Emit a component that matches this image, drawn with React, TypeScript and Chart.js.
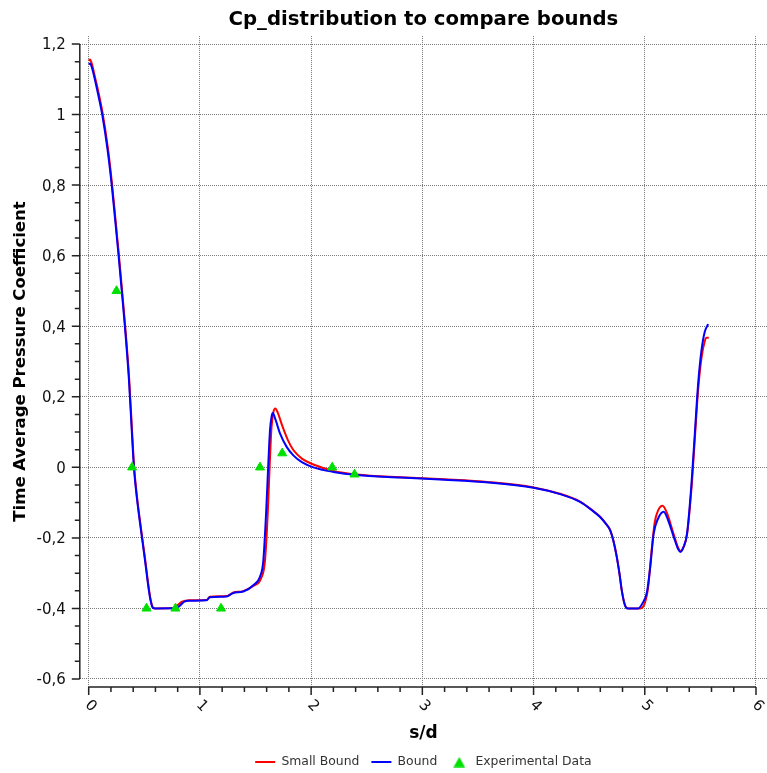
import React, { useEffect, useRef } from 'react';
import { Chart, registerables } from 'chart.js';

Chart.register(...registerables);

// ---- data ----
const smallBoundS = [
  0.0, 0.012, 0.03, 0.055, 0.088, 0.124, 0.172, 0.209, 0.24, 0.271, 0.301, 0.328, 0.364, 0.389, 0.409,
  0.435, 0.471, 0.508, 0.539, 0.558, 0.579, 0.6, 0.76, 0.8, 0.84, 0.9, 1.06, 1.09, 1.24, 1.3, 1.39, 1.48,
  1.55, 1.585, 1.61, 1.628, 1.643, 1.66, 1.678, 1.7, 1.74, 1.79, 1.84, 1.92, 2.02, 2.2, 2.41, 2.8, 3.2,
  3.6, 4.0, 4.238, 4.418, 4.526, 4.598, 4.652, 4.688, 4.719, 4.748, 4.773, 4.793, 4.814, 4.834, 4.852,
  4.96, 5.0, 5.03, 5.06, 5.09, 5.12, 5.16, 5.2, 5.26, 5.3, 5.32, 5.35, 5.38, 5.42, 5.45, 5.48, 5.51, 5.54,
  5.555, 5.575,
];
const smallBoundCp = [
  1.153, 1.156, 1.142, 1.108, 1.063, 1.006, 0.906, 0.806, 0.706, 0.604, 0.498, 0.401, 0.251, 0.108, 0.0,
  -0.085, -0.175, -0.262, -0.339, -0.377, -0.398, -0.4, -0.399, -0.39, -0.381, -0.377, -0.376, -0.367,
  -0.365, -0.355, -0.351, -0.336, -0.315, -0.265, -0.13, 0.01, 0.11, 0.155, 0.167, 0.155, 0.118, 0.078,
  0.049, 0.024, 0.008, -0.01, -0.02, -0.028, -0.034, -0.042, -0.057, -0.075, -0.097, -0.121, -0.14,
  -0.16, -0.177, -0.209, -0.253, -0.302, -0.348, -0.382, -0.398, -0.4, -0.4, -0.385, -0.34, -0.24,
  -0.155, -0.122, -0.109, -0.13, -0.19, -0.228, -0.237, -0.225, -0.19, -0.06, 0.08, 0.22, 0.31, 0.358,
  0.367, 0.367,
];

const boundS = [
  0.0, 0.012, 0.03, 0.055, 0.086, 0.122, 0.17, 0.207, 0.238, 0.269, 0.299, 0.326, 0.362, 0.387, 0.407,
  0.433, 0.469, 0.506, 0.537, 0.556, 0.576, 0.6, 0.79, 0.82, 0.86, 0.9, 1.06, 1.09, 1.24, 1.3, 1.39, 1.48,
  1.54, 1.57, 1.595, 1.615, 1.63, 1.645, 1.655, 1.68, 1.72, 1.78, 1.84, 1.92, 2.02, 2.2, 2.41, 2.8, 3.2,
  3.6, 4.0, 4.238, 4.418, 4.526, 4.598, 4.652, 4.688, 4.719, 4.748, 4.773, 4.793, 4.814, 4.832, 4.85,
  4.94, 4.98, 5.02, 5.05, 5.08, 5.12, 5.17, 5.21, 5.26, 5.3, 5.32, 5.35, 5.38, 5.42, 5.45, 5.48, 5.51,
  5.54, 5.57,
];
const boundCp = [
  1.143, 1.145, 1.132, 1.1, 1.055, 0.999, 0.899, 0.8, 0.701, 0.599, 0.494, 0.397, 0.247, 0.105, -0.002,
  -0.086, -0.176, -0.263, -0.34, -0.377, -0.398, -0.4, -0.399, -0.392, -0.381, -0.378, -0.377, -0.368,
  -0.366, -0.356, -0.352, -0.334, -0.31, -0.265, -0.13, 0.01, 0.105, 0.145, 0.154, 0.135, 0.096, 0.058,
  0.034, 0.014, 0.0, -0.013, -0.022, -0.029, -0.035, -0.043, -0.058, -0.076, -0.098, -0.122, -0.141,
  -0.161, -0.178, -0.21, -0.254, -0.303, -0.349, -0.383, -0.398, -0.4, -0.4, -0.385, -0.353, -0.28,
  -0.188, -0.145, -0.126, -0.15, -0.197, -0.232, -0.24, -0.225, -0.188, -0.046, 0.096, 0.238, 0.332,
  0.385, 0.406,
];

const expS = [0.25, 0.39, 0.52, 0.78, 1.19, 1.54, 1.74, 2.19, 2.39];
const expCp = [0.5, 0.0, -0.4, -0.4, -0.4, 0.0, 0.04, 0.0, -0.02];

const xTicks = [0, 1, 2, 3, 4, 5, 6];
const yTicks = [-0.6, -0.4, -0.2, 0, 0.2, 0.4, 0.6, 0.8, 1, 1.2];
const xMinorStep = 0.2;
const yMinorStep = 0.05;

const FONT = '"DejaVu Sans", Verdana, sans-serif';
const GREEN = '#00e000';

const fmt = (v: number) => {
  const n = Number(v.toFixed(2));
  return (Object.is(n, -0) ? 0 : n).toString().replace('.', ',');
};

const makeTriangleIcon = () => {
  const c = document.createElement('canvas');
  c.width = 12;
  c.height = 11;
  const g = c.getContext('2d');
  if (g) {
    g.fillStyle = GREEN;
    g.beginPath();
    g.moveTo(6, 0.5);
    g.lineTo(11.8, 10.8);
    g.lineTo(0.2, 10.8);
    g.closePath();
    g.fill();
  }
  return c;
};

const axesPlugin = {
  id: 'customAxes',
  afterDraw(chart: any) {
    const { ctx, chartArea, scales } = chart;
    const x = scales.x;
    const y = scales.y;
    const ax = chartArea.left;
    const ay = chartArea.bottom;
    ctx.save();
    ctx.strokeStyle = '#222';
    ctx.lineWidth = 1.5;
    ctx.beginPath();
    const yLo = yTicks[0];
    const yHi = yTicks[yTicks.length - 1];
    ctx.moveTo(ax, y.getPixelForValue(yHi));
    ctx.lineTo(ax, y.getPixelForValue(yLo));
    const nY = Math.round((yHi - yLo) / yMinorStep);
    for (let i = 0; i <= nY; i++) {
      const v = yLo + i * yMinorStep;
      const major = yTicks.some((t) => Math.abs(t - v) < 1e-6);
      const py = y.getPixelForValue(v);
      ctx.moveTo(ax - (major ? 8 : 5), py);
      ctx.lineTo(ax, py);
    }
    const xLo = xTicks[0];
    const xHi = xTicks[xTicks.length - 1];
    ctx.moveTo(x.getPixelForValue(xLo), ay);
    ctx.lineTo(x.getPixelForValue(xHi), ay);
    const nX = Math.round((xHi - xLo) / xMinorStep);
    for (let i = 0; i <= nX; i++) {
      const v = xLo + i * xMinorStep;
      const major = xTicks.some((t) => Math.abs(t - v) < 1e-6);
      const px = x.getPixelForValue(v);
      ctx.moveTo(px, ay);
      ctx.lineTo(px, ay + (major ? 8 : 5));
    }
    ctx.stroke();

    ctx.fillStyle = '#111';
    ctx.font = `15px ${FONT}`;
    ctx.textAlign = 'right';
    ctx.textBaseline = 'middle';
    yTicks.forEach((v) => {
      ctx.fillText(fmt(v), ax - 14, y.getPixelForValue(v) + 1.5);
    });
    ctx.textAlign = 'center';
    xTicks.forEach((v) => {
      ctx.save();
      ctx.translate(x.getPixelForValue(v) + 2, ay + 19);
      ctx.rotate(Math.PI / 4);
      ctx.fillText(fmt(v), 0, 0);
      ctx.restore();
    });
    ctx.restore();
  },
};

export default function App() {
  const ref = useRef<HTMLCanvasElement>(null);

  useEffect(() => {
    document.body.style.margin = '0';
    const canvas = ref.current;
    if (!canvas) return;
    const triIcon = makeTriangleIcon();
    const chart = new Chart(canvas, {
      type: 'scatter',
      data: {
        datasets: [
          {
            label: 'Small Bound',
            data: smallBoundS.map((s, i) => ({ x: s, y: smallBoundCp[i] })),
            showLine: true,
            borderColor: '#ff0000',
            backgroundColor: '#ff0000',
            borderWidth: 2,
            pointRadius: 0,
            pointHoverRadius: 0,
            pointStyle: 'line',
            pointBorderColor: '#ff0000',
            pointBorderWidth: 2,
            cubicInterpolationMode: 'monotone',
            order: 2,
          },
          {
            label: 'Bound',
            data: boundS.map((s, i) => ({ x: s, y: boundCp[i] })),
            showLine: true,
            borderColor: '#0000ff',
            backgroundColor: '#0000ff',
            borderWidth: 2,
            pointRadius: 0,
            pointHoverRadius: 0,
            pointStyle: 'line',
            pointBorderColor: '#0000ff',
            pointBorderWidth: 2,
            cubicInterpolationMode: 'monotone',
            order: 1,
          },
          {
            label: 'Experimental Data',
            data: expS.map((s, i) => ({ x: s, y: expCp[i] })),
            showLine: false,
            pointStyle: 'triangle',
            pointRadius: 5.2,
            pointHoverRadius: 5.2,
            pointBackgroundColor: GREEN,
            pointBorderColor: GREEN,
            backgroundColor: GREEN,
            borderColor: GREEN,
            pointBorderWidth: 1,
            order: 0,
          },
        ],
      },
      options: {
        responsive: false,
        animation: false,
        devicePixelRatio: 1,
        layout: { autoPadding: false, padding: { left: 0, right: 0, top: 0, bottom: -5.2 } },
        plugins: {
          title: {
            display: true,
            fullSize: false,
            text: 'Cp_distribution to compare bounds',
            color: '#000',
            font: { family: FONT, size: 19.7, weight: 'bold' },
            padding: { top: 8.1, bottom: 4.3 },
          },
          legend: {
            display: true,
            position: 'bottom',
            fullSize: false,
            labels: {
              usePointStyle: true,
              pointStyleWidth: 20,
              boxHeight: 9,
              padding: 12,
              color: '#333',
              font: { family: FONT, size: 12.4 },
              generateLabels: (ch: any) => {
                const items = (Chart.defaults as any).plugins.legend.labels.generateLabels(ch);
                items.forEach((it: any) => {
                  if (it.datasetIndex === 2) it.pointStyle = triIcon;
                });
                return items;
              },
              sort: (a: any, b: any) => a.datasetIndex - b.datasetIndex,
            },
          },
          tooltip: { enabled: false },
        },
        scales: {
          x: {
            type: 'linear',
            min: -0.08,
            max: 6.099,
            afterBuildTicks: (s: any) => {
              s.ticks = xTicks.map((v) => ({ value: v }));
            },
            ticks: { display: false },
            grid: { color: '#7a7a7a', lineWidth: 1, drawTicks: false },
            border: { display: false, dash: [1, 1] },
            title: {
              display: true,
              text: 's/d',
              color: '#000',
              font: { family: FONT, size: 17, weight: 'bold' },
              padding: { top: 36.4, bottom: 0 },
            },
          },
          y: {
            type: 'linear',
            min: -0.6227,
            max: 1.2226,
            afterBuildTicks: (s: any) => {
              s.ticks = yTicks.map((v) => ({ value: v }));
            },
            ticks: { display: false },
            grid: { color: '#7a7a7a', lineWidth: 1, drawTicks: false },
            border: { display: false, dash: [1, 1] },
            title: {
              display: true,
              text: 'Time Average Pressure Coefficient',
              color: '#000',
              font: { family: FONT, size: 16.5, weight: 'bold' },
              padding: { top: 10.6, bottom: 49.4 },
            },
          },
        },
      },
      plugins: [axesPlugin],
    } as any);
    return () => chart.destroy();
  }, []);

  return (
    <div style={{ width: 767, height: 773 }}>
      <canvas ref={ref} width={767} height={773} style={{ display: 'block' }} />
    </div>
  );
}
